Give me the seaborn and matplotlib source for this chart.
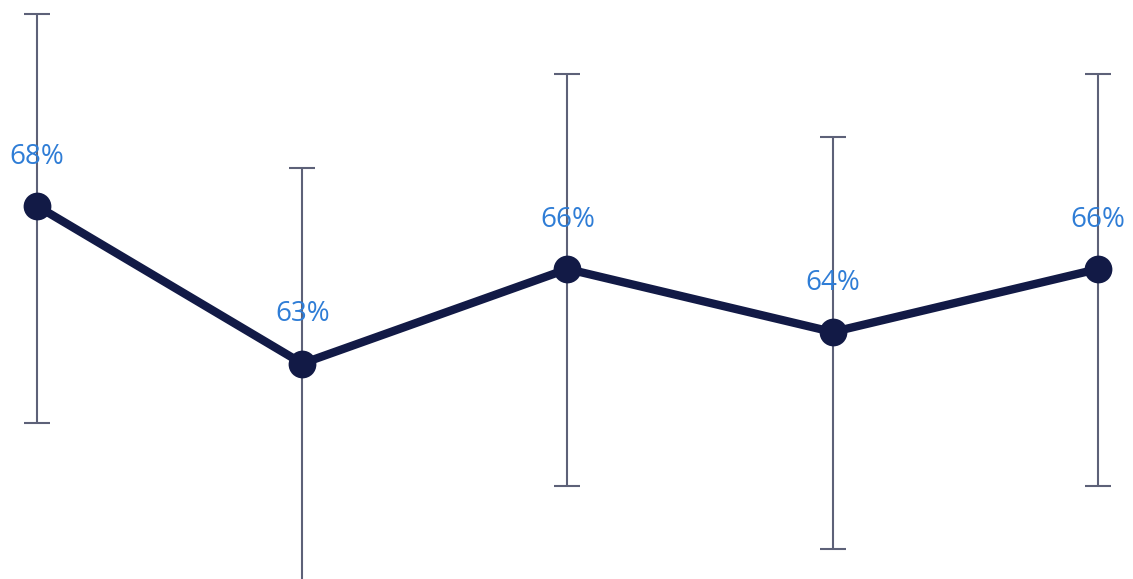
import matplotlib
matplotlib.use("Agg")
import matplotlib.pyplot as plt
import seaborn as sns
import numpy as np
import pandas as pd

categories = ["A", "B", "C", "D", "E"]
values = [68.0, 63.0, 66.0, 64.0, 66.0]
upper = [74.1, 69.2, 72.2, 70.2, 72.2]
lower = [61.1, 56.1, 59.1, 57.1, 59.1]
labels = ["68%", "63%", "66%", "64%", "66%"]

sns.set_theme(style="white")
plt.rcParams['font.family'] = ['Open Sans', 'DejaVu Sans']

df = pd.DataFrame({"x": np.arange(len(categories)), "v": values})

fig = plt.figure(figsize=(11.33, 5.79), dpi=100)
ax = fig.add_axes([0, 0, 1, 1])

yerr = np.array([np.array(values) - np.array(lower), np.array(upper) - np.array(values)])
ax.errorbar(df["x"], df["v"], yerr=yerr, fmt="none", ecolor="#5d6178",
            elinewidth=1.5, capsize=9.5, capthick=1.5, zorder=1)

sns.lineplot(data=df, x="x", y="v", ax=ax, color="#121a46", linewidth=6.0,
             marker="o", markersize=20, markeredgewidth=0, zorder=3)

for xi, v, lab in zip(df["x"], values, labels):
    ax.annotate(lab, (xi, v), xytext=(0, 30.5), textcoords="offset points",
                ha="center", va="baseline", color="#2f7dd6", fontsize=20, zorder=4)

ax.set_xlim(-0.1395, 4.132)
ax.set_ylim(56.16, 74.54)
ax.axis("off")

fig.savefig("out.png", dpi=100, facecolor="white")
